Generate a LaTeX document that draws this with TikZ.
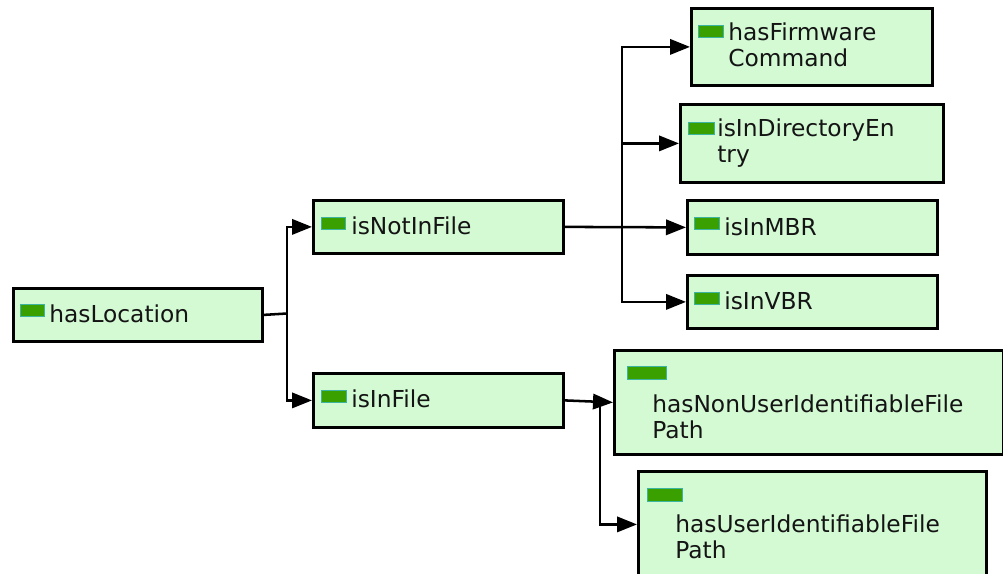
\documentclass[tikz,border=0pt]{standalone}
\usepackage{fontspec}
\setmainfont{DejaVu Sans}
\usetikzlibrary{arrows.meta}
\definecolor{boxfill}{RGB}{212,250,212}
\definecolor{iconfill}{RGB}{58,160,0}
\definecolor{iconline}{RGB}{60,180,160}
\tikzset{
  box/.style={draw=black, line width=2.1pt, fill=boxfill, rectangle, inner sep=0pt, anchor=north west},
  txt/.style={inner sep=0pt, anchor=base west, align=left, text=black!92, font=\fontsize{17.5}{19.5}\selectfont},
  icon/.style={fill=iconfill, draw=iconline, line width=0.5pt},
  arr/.style={draw=black, line width=1.9pt, -{Triangle[length=15pt,width=11.5pt]}},
  ln/.style={draw=black, line width=1.9pt}
}
\begin{document}
\begin{tikzpicture}[x=0.75pt,y=-0.75pt]
\useasboundingbox (0,0) rectangle (1003,574);
\clip (0,0) rectangle (1003,574);
% boxes
\node[box, minimum width=249*0.75pt, minimum height=53*0.75pt] (hl) at (12,287) {};
\node[box, minimum width=250*0.75pt, minimum height=53*0.75pt] (nf) at (312,199) {};
\node[box, minimum width=250*0.75pt, minimum height=54*0.75pt] (if) at (312,372) {};
\node[box, minimum width=241*0.75pt, minimum height=77*0.75pt] (fw) at (690,7) {};
\node[box, minimum width=263*0.75pt, minimum height=78*0.75pt] (de) at (679,103) {};
\node[box, minimum width=250*0.75pt, minimum height=54*0.75pt] (mbr) at (686,199) {};
\node[box, minimum width=250*0.75pt, minimum height=53*0.75pt] (vbr) at (686,274) {};
\node[box, minimum width=389*0.75pt, minimum height=104*0.75pt] (nu) at (613,349) {};
\node[box, minimum width=348*0.75pt, minimum height=106*0.75pt] (ui) at (637,470) {};
% icons
\path[icon] (20,304) rectangle (44,316);
\path[icon] (321,217) rectangle (345,229);
\path[icon] (321,390) rectangle (346,402);
\path[icon] (698,25) rectangle (723,37);
\path[icon] (688,122) rectangle (714,134);
\path[icon] (694,217) rectangle (719,229);
\path[icon] (694,292) rectangle (719,304);
\path[icon] (627,366) rectangle (666,379);
\path[icon] (647,488) rectangle (682,501);
% texts (base anchor = last line)
\node[txt] (thl) at (49,322) {hasLocation};
\node[txt] (tnf) at (351,234) {isNotInFile};
\node[txt] (tif) at (351,407) {isInFile};
\node[txt] (tfw) at (728,67) {hasFirmware\\Command};
\node[txt] (tde) at (717,163) {isInDirectoryEn\\try};
\node[txt] (tmbr) at (724,235) {isInMBR};
\node[txt] (tvbr) at (724,309) {isInVBR};
\node[txt] (tnu) at (652,438) {hasNonUserIdentifiableFile\\Path};
\node[txt] (tui) at (675,558) {hasUserIdentifiableFile\\Path};
% connectors
\coordinate (j1) at (287,313.5);
\draw[ln] (hl.east) -- (j1);
\draw[arr] (j1) |- (nf.west);
\draw[arr] (j1) |- (if.west);
\coordinate (j2) at (622,225.5);
\draw[arr] (nf.east) -- (mbr.west);
\draw[arr] (j2) |- (fw.west);
\draw[arr] (j2 |- de.west) -- (de.west);
\draw[arr] (j2) |- (vbr.west);
\coordinate (j3) at (600,400);
\draw[arr] (if.east) -- (nu.west);
\draw[arr] (j3) |- (ui.west);
\end{tikzpicture}
\end{document}
